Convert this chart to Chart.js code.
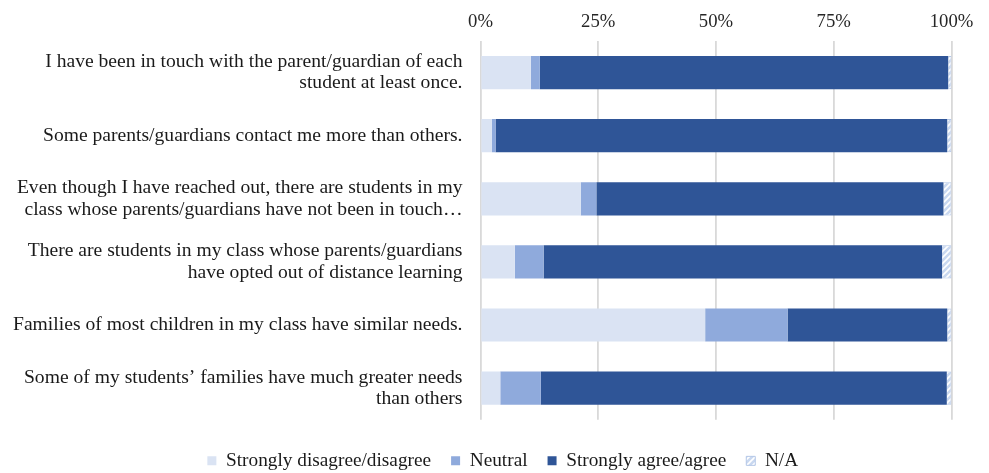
<!DOCTYPE html>
<html>
<head>
<meta charset="utf-8">
<script src="https://cdn.jsdelivr.net/npm/chart.js@4"></script>
<style>
  html, body { margin: 0; padding: 0; background: #ffffff; }
  #wrap { width: 989px; height: 473px; }
</style>
</head>
<body>
<div id="wrap"><canvas id="chart" width="989" height="473"></canvas></div>
<script>
// Survey statements (each entry is one wrapped label)
const statements = [
  ['I have been in touch with the parent/guardian of each', 'student at least once.'],
  ['Some parents/guardians contact me more than others.'],
  ['Even though I have reached out, there are students in my', 'class whose parents/guardians have not been in touch\u2026'],
  ['There are students in my class whose parents/guardians', 'have opted out of distance learning'],
  ['Families of most children in my class have similar needs.'],
  ['Some of my students\u2019 families have much greater needs', 'than others']
];

// Response shares, percent of respondents
const disagreeShare = [10.7, 2.4, 21.3, 7.3, 47.7, 4.2];
const neutralShare  = [1.9, 0.8, 3.3, 6.1, 17.5, 8.6];
const agreeShare    = [86.7, 95.9, 73.7, 84.6, 33.9, 86.2];
const naShare       = [0.7, 0.9, 1.7, 2.0, 0.9, 1.0];

// Axis ticks
const percentTicks = [0, 25, 50, 75, 100];

const FONT = 'Liberation Serif, "Times New Roman", Times, serif';

// Hatched fill for the N/A segments
function hatchPattern() {
  const c = document.createElement('canvas');
  c.width = 6; c.height = 6;
  const g = c.getContext('2d');
  g.fillStyle = '#c9d8f0';
  g.fillRect(0, 0, 6, 6);
  g.strokeStyle = '#ffffff';
  g.lineWidth = 1.6;
  g.beginPath();
  g.moveTo(-1, 7); g.lineTo(7, -1);
  g.moveTo(-4, 4); g.lineTo(4, -4);
  g.moveTo(2, 10); g.lineTo(10, 2);
  g.stroke();
  return g.createPattern(c, 'repeat');
}

// Nudges the legend row a little lower and to the right
const legendOffset = {
  id: 'legendOffset',
  afterLayout(chart) {
    const lg = chart.legend;
    if (lg) {
      lg.top += 11.5; lg.bottom += 11.5;
      lg.left += 27; lg.right += 27;
    }
  }
};

const ctx = document.getElementById('chart').getContext('2d');
new Chart(ctx, {
  type: 'bar',
  data: {
    labels: statements,
    datasets: [
      { label: 'Strongly disagree/disagree', data: disagreeShare, backgroundColor: '#dae3f3', borderWidth: 0 },
      { label: 'Neutral', data: neutralShare, backgroundColor: '#8faadc', borderWidth: 0 },
      { label: 'Strongly agree/agree', data: agreeShare, backgroundColor: '#2f5597', borderWidth: 0 },
      { label: 'N/A', data: naShare, backgroundColor: hatchPattern(), borderColor: '#b4c7e7', borderWidth: 1 }
    ]
  },
  options: {
    indexAxis: 'y',
    responsive: false,
    animation: false,
    events: [],
    layout: { padding: { left: 0, right: 37.5, top: 0, bottom: 4 } },
    datasets: { bar: { barPercentage: 0.526, categoryPercentage: 1 } },
    scales: {
      x: {
        position: 'top',
        stacked: true,
        min: 0,
        max: 100,
        afterBuildTicks(scale) { scale.ticks = percentTicks.map(v => ({ value: v })); },
        afterFit(scale) { scale.height = 41; },
        grid: { color: '#d9d9d9', lineWidth: 1.8, drawTicks: false },
        border: { display: false },
        ticks: {
          padding: 8,
          color: '#262626',
          font: { family: FONT, size: 18.7 },
          callback: v => v + '%'
        }
      },
      y: {
        stacked: true,
        afterFit(scale) { scale.width = 480.5; },
        grid: { display: false, drawTicks: false },
        border: { display: false },
        ticks: {
          padding: 18,
          color: '#1a1a1a',
          font: { family: FONT, size: 19.6, lineHeight: 1.1 }
        }
      }
    },
    plugins: {
      tooltip: { enabled: false },
      legend: {
        position: 'bottom',
        align: 'center',
        labels: {
          boxWidth: 9,
          boxHeight: 9,
          padding: 20,
          color: '#1a1a1a',
          font: { family: FONT, size: 19.3 }
        }
      }
    }
  },
  plugins: [legendOffset]
});
</script>
</body>
</html>
